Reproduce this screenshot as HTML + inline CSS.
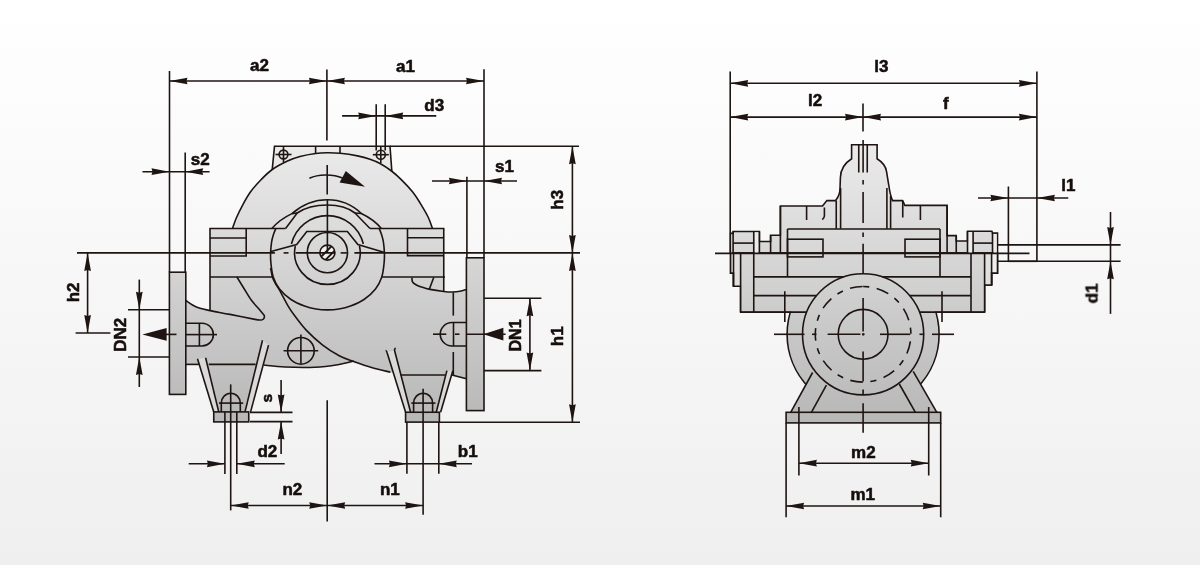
<!DOCTYPE html>
<html><head><meta charset="utf-8"><title>Pump dimensions</title>
<style>
html,body{margin:0;padding:0;background:#fff;}
body{width:1200px;height:565px;overflow:hidden;}
svg{display:block;}
svg text{font-family:"Liberation Sans",sans-serif;font-weight:bold;fill:#140d0b;stroke:#140d0b;stroke-width:0.55px;stroke-linejoin:round;}
</style></head><body>
<svg width="1200" height="565" viewBox="0 0 1200 565" stroke="#1e1412" stroke-linecap="butt" stroke-linejoin="miter" fill="none">
<defs>
<linearGradient id="bg" x1="0" y1="0" x2="0" y2="1"><stop offset="0" stop-color="#ffffff"/><stop offset="1" stop-color="#efefef"/></linearGradient>
<linearGradient id="g" gradientUnits="userSpaceOnUse" x1="0" y1="145" x2="0" y2="425"><stop offset="0" stop-color="#ebebeb"/><stop offset="0.4" stop-color="#d6d6d6"/><stop offset="1" stop-color="#b7b7b7"/></linearGradient>
<clipPath id="shaftclip"><circle cx="327.4" cy="252.6" r="7.2"/></clipPath>
</defs>
<rect x="0" y="0" width="1200" height="565" fill="url(#bg)" stroke="none"/>

<g id="left">
<path d="M274.5,146.3 L390,146.3 L391.9,172.3 L272.1,170.8 Z" fill="url(#g)" stroke-width="1.6"/>
<path d="M210,228.5 L232.5,228.5 C233.13,226.75 234.63,221.87 236.3,218 C237.97,214.13 240.15,209.63 242.5,205.3 C244.85,200.97 247.32,196.25 250.4,192 C253.48,187.75 257.36,183.55 261,179.8 C264.64,176.05 267.83,172.63 272.25,169.5 C276.67,166.37 282.88,163.17 287.5,161 C292.12,158.83 295.32,157.75 300,156.5 C304.68,155.25 311.1,154.12 315.6,153.5 C320.1,152.88 322.93,152.83 327,152.8 C331.07,152.77 334.92,152.78 340,153.3 C345.08,153.82 352.5,154.92 357.5,155.9 C362.5,156.88 366.25,157.93 370,159.2 C373.75,160.47 376.42,161.53 380,163.5 C383.58,165.47 387.96,168.32 391.5,171 C395.04,173.68 397.75,176.13 401.25,179.6 C404.75,183.07 409.38,187.93 412.5,191.8 C415.62,195.67 417.4,198.6 420,202.8 C422.6,207 426.02,212.72 428.1,217 C430.18,221.28 431.77,226.58 432.5,228.5 L443.75,228.5 L443.75,291.5 C445.21,291.58 449.79,292.04 452.5,292 C455.21,291.96 457.68,291.68 460,291.25 C462.32,290.82 465.33,289.71 466.4,289.4 L466.4,378.75 L451.9,375 L400.6,375 L390.4,372.2 C387.38,371.45 378.32,369.45 372.3,367.7 C366.28,365.95 357.3,362.7 354.3,361.7 C351.12,361.62 344.17,363.67 337.7,364.7 C331.23,365.73 323.78,366.82 315,367.2 C306.22,367.58 293.54,367.37 285,367 C276.46,366.63 267.29,365.33 263.75,365 L185.8,364.4 L185.8,300.5 C186.92,301.25 190.13,303.7 192.5,305 C194.87,306.3 197.08,307.37 200,308.3 C202.92,309.23 208.33,310.22 210,310.6 Z" fill="url(#g)" stroke="none"/>
<rect x="169.4" y="272.2" width="16.4" height="122.2" fill="url(#g)" stroke-width="1.6"/>
<rect x="466.4" y="257.8" width="17.6" height="152.8" fill="url(#g)" stroke-width="1.6"/>
<path d="M197.5,358.75 L268.5,345.1 L250.6,411.9 L213.75,411.9 Z" fill="url(#g)" stroke="none"/>
<path d="M386.6,351.2 L452.5,371.5 L440.6,412.25 L405.6,412.25 Z" fill="url(#g)" stroke="none"/>
<path d="M197.5,358.75 L205.6,357.75 L218.75,411.9 L213.75,411.9 Z" fill="#d9d9d9" stroke="none"/>
<path d="M262.5,340.3 L268.5,345.1 L250.6,411.9 L245,411.9 Z" fill="#d9d9d9" stroke="none"/>
<path d="M387,352 L394.7,350.5 L410.6,412.25 L405.6,412.25 Z" fill="#d9d9d9" stroke="none"/>
<path d="M446.9,370.6 L452.8,370.8 L440.6,412.25 L436.25,412.25 Z" fill="#d9d9d9" stroke="none"/>
<rect x="213.75" y="411.9" width="35" height="10" fill="url(#g)" stroke-width="1.6"/>
<rect x="405.6" y="412.25" width="33.8" height="9.85" fill="url(#g)" stroke-width="1.6"/>
<path d="M232.5,228.5 C233.13,226.75 234.63,221.87 236.3,218 C237.97,214.13 240.15,209.63 242.5,205.3 C244.85,200.97 247.32,196.25 250.4,192 C253.48,187.75 257.36,183.55 261,179.8 C264.64,176.05 267.83,172.63 272.25,169.5 C276.67,166.37 282.88,163.17 287.5,161 C292.12,158.83 295.32,157.75 300,156.5 C304.68,155.25 311.1,154.12 315.6,153.5 C320.1,152.88 322.93,152.83 327,152.8 C331.07,152.77 334.92,152.78 340,153.3 C345.08,153.82 352.5,154.92 357.5,155.9 C362.5,156.88 366.25,157.93 370,159.2 C373.75,160.47 376.42,161.53 380,163.5 C383.58,165.47 387.96,168.32 391.5,171 C395.04,173.68 397.75,176.13 401.25,179.6 C404.75,183.07 409.38,187.93 412.5,191.8 C415.62,195.67 417.4,198.6 420,202.8 C422.6,207 426.02,212.72 428.1,217 C430.18,221.28 431.77,226.58 432.5,228.5 " fill="none" stroke-width="1.6"/>
<line x1="210" y1="228.5" x2="210" y2="310.6" stroke-width="1.6" />
<line x1="443.75" y1="228.5" x2="443.75" y2="291.5" stroke-width="1.6" />
<line x1="209.35" y1="228.5" x2="285.6" y2="228.5" stroke-width="1.6" />
<line x1="370" y1="228.5" x2="444.4" y2="228.5" stroke-width="1.6" />
<line x1="210" y1="277" x2="272.8" y2="277" stroke-width="1.6" />
<line x1="381.9" y1="277" x2="445" y2="277" stroke-width="1.6" />
<path d="M210,256 L246.2,256 L246.2,228.5" fill="none" stroke-width="1.6"/>
<line x1="210" y1="238" x2="246.2" y2="238" stroke-width="1.6" />
<path d="M443.75,255.6 L407.5,255.6 L407.5,228.5" fill="none" stroke-width="1.6"/>
<line x1="407.5" y1="237.8" x2="443.75" y2="237.8" stroke-width="1.6" />
<path d="M379.2,228.5 C379.62,229.58 381,232.75 381.7,235 C382.4,237.25 382.95,239.07 383.4,242 C383.85,244.93 384.28,249.1 384.4,252.6 C384.52,256.1 384.53,258.95 384.1,263 C383.67,267.05 383.23,272.58 381.8,276.9 C380.37,281.22 378.47,285.13 375.5,288.9 C372.53,292.67 368.17,296.65 364,299.5 C359.83,302.35 354.67,304.42 350.5,306 C346.33,307.58 342.83,308.35 339,309 C335.17,309.65 331.33,309.9 327.5,309.9 C323.67,309.9 319.83,309.65 316,309 C312.17,308.35 308.67,307.58 304.5,306 C300.33,304.42 295.17,302.35 291,299.5 C286.83,296.65 282.47,292.67 279.5,288.9 C276.53,285.13 274.63,281.22 273.2,276.9 C271.77,272.58 271.33,267.05 270.9,263 C270.47,258.95 270.48,256.1 270.6,252.6 C270.72,249.1 271.15,244.93 271.6,242 C272.05,239.07 272.6,237.25 273.3,235 C274,232.75 275.38,229.58 275.8,228.5 " fill="none" stroke-width="1.6"/>
<path d="M271.9,228.5 Q279.5,219.5 292,213.6 C301,205.8 313,199.8 327.4,199.8 C341.8,199.8 353,205.5 361.3,213.5 Q374,219.5 381.3,228.5" fill="none" stroke-width="1.6"/>
<path d="M285.6,228.5 L297.2,213 C305,207.6 316,205 327.4,205 C339,205 348,207.6 355,213 L370,228.5" fill="none" stroke-width="1.6"/>
<line x1="292" y1="213.6" x2="297.2" y2="213" stroke-width="1.6" />
<line x1="355" y1="213" x2="361.3" y2="213.5" stroke-width="1.6" />
<path d="M291.42,243.96 A37,37 0 0 1 363.38,243.96" stroke-width="1.6"/>
<path d="M359.48,245.99 A32.8,31.8 0 1 1 295.32,245.99" stroke-width="1.6"/>
<circle cx="327.4" cy="252.6" r="20.1" fill="none" stroke-width="1.6" />
<path d="M271,251.6 L296.7,244.6 L306.8,231.5 L347.4,231.5 L357.9,244.6 L383.8,252.2" fill="none" stroke-width="1.6"/>
<circle cx="327.4" cy="252.6" r="7.5" fill="#f0f0f0" stroke-width="1.6" />
<g clip-path="url(#shaftclip)">
<line x1="316.3" y1="261.5" x2="336.3" y2="241.5" stroke-width="1.9" />
<line x1="320.1" y1="265.3" x2="340.1" y2="245.3" stroke-width="1.9" />
</g>
<path d="M185.8,300.5 C186.92,301.25 190.13,303.7 192.5,305 C194.87,306.3 197.08,307.37 200,308.3 C202.92,309.23 205,309.58 210,310.6 C215,311.62 222.5,312.93 230,314.4 C237.5,315.87 250,318.47 255,319.4 C260,320.33 259.17,319.9 260,320 C262.5,320.4 265.5,318.5 264,315 C263.12,313.96 260.88,311.25 258.75,308.75 C256.62,306.25 253.71,303.38 251.25,300 C248.79,296.62 246.39,292.33 244,288.5 C241.61,284.67 238.08,278.92 236.9,277 " fill="none" stroke-width="1.6"/>
<path d="M270.6,268 C270.93,269.58 271.8,274.92 272.6,277.5 C273.4,280.08 274.27,281.45 275.4,283.5 C276.53,285.55 277.25,286 279.4,289.8 C281.55,293.6 285.78,302.02 288.3,306.3 C290.82,310.58 291.52,311.53 294.5,315.5 C297.48,319.47 301.5,325.17 306.2,330.1 C310.9,335.03 317.2,340.83 322.7,345.1 C328.2,349.37 333.93,352.93 339.2,355.7 C344.47,358.47 348.78,359.7 354.3,361.7 C359.82,363.7 366.28,365.95 372.3,367.7 C378.32,369.45 387.38,371.45 390.4,372.2 " fill="none" stroke-width="1.6"/>
<path d="M263.75,365 C267.29,365.33 276.46,366.63 285,367 C293.54,367.37 306.22,367.58 315,367.2 C323.78,366.82 331.23,365.73 337.7,364.7 C344.17,363.67 351.12,361.62 353.8,361 " fill="none" stroke-width="1.6"/>
<path d="M411.9,277.5 C412,278.23 411.9,280.73 412.5,281.9 C413.1,283.07 414.04,283.67 415.5,284.5 C416.96,285.33 418.83,286.08 421.25,286.9 C423.67,287.72 426.25,288.63 430,289.4 C433.75,290.17 440,291.07 443.75,291.5 C447.5,291.93 449.79,292.04 452.5,292 C455.21,291.96 457.68,291.68 460,291.25 C462.32,290.82 465.33,289.71 466.4,289.4 " fill="none" stroke-width="1.6"/>
<line x1="433.75" y1="277.5" x2="429.4" y2="289" stroke-width="1.6" />
<line x1="185.8" y1="364.4" x2="198.9" y2="364.4" stroke-width="1.6" />
<line x1="208.75" y1="364.4" x2="255.6" y2="364.4" stroke-width="1.6" />
<line x1="400.6" y1="375" x2="445" y2="375" stroke-width="1.6" />
<line x1="451.9" y1="375" x2="466.4" y2="378.75" stroke-width="1.6" />
<path d="M185.8,323.2 L202,323.2 A11.4,11.4 0 0 1 202,346 L185.8,346" fill="none" stroke-width="1.6"/>
<line x1="199.4" y1="323.2" x2="199.4" y2="346" stroke-width="1.6" />
<line x1="185.8" y1="334.6" x2="217" y2="334.6" stroke-width="1.6" />
<path d="M466.4,322.5 L452,322.5 A11.75,11.75 0 0 0 452,346 L466.4,346" fill="none" stroke-width="1.6"/>
<line x1="453.5" y1="322.5" x2="453.5" y2="346" stroke-width="1.6" />
<line x1="433" y1="334.2" x2="446.3" y2="334.2" stroke-width="1.6" />
<line x1="455" y1="334.2" x2="459.5" y2="334.2" stroke-width="1.6" />
<line x1="453.3" y1="292.5" x2="453.3" y2="315.6" stroke-width="1.6" />
<line x1="453.3" y1="352" x2="453.3" y2="375" stroke-width="1.6" />
<circle cx="300.9" cy="350.8" r="13.3" fill="none" stroke-width="1.6" />
<line x1="283.6" y1="350.8" x2="318.2" y2="350.8" stroke-width="1.6" />
<line x1="300.9" y1="334.6" x2="300.9" y2="363.2" stroke-width="1.6" />
<circle cx="283.5" cy="154.5" r="4.4" fill="none" stroke-width="1.6" />
<line x1="275.5" y1="154.5" x2="291.5" y2="154.5" stroke-width="1.6" />
<line x1="283.5" y1="146.3" x2="283.5" y2="162.5" stroke-width="1.6" />
<circle cx="380.8" cy="154.7" r="4.5" fill="none" stroke-width="1.6" />
<line x1="372.8" y1="154.7" x2="388.8" y2="154.7" stroke-width="1.6" />
<line x1="380.8" y1="146.3" x2="380.8" y2="163" stroke-width="1.6" />
<line x1="315.6" y1="146.3" x2="315.6" y2="153.5" stroke-width="1.6" />
<line x1="340" y1="146.3" x2="340" y2="153.3" stroke-width="1.6" />
<line x1="197.5" y1="358.75" x2="213.75" y2="411.9" stroke-width="1.6" />
<line x1="205.6" y1="357.75" x2="218.75" y2="411.9" stroke-width="1.6" />
<line x1="268.5" y1="345.1" x2="250.6" y2="411.9" stroke-width="1.6" />
<line x1="262.5" y1="340.3" x2="245" y2="411.9" stroke-width="1.6" />
<path d="M385.6,350.5 C386.5,350.5 386.8,351.5 387.2,353 L405.6,412.25" fill="none" stroke-width="1.6"/>
<path d="M395.8,348.3 C394.6,348.6 394.3,349.6 394.7,351 L410.6,412.25" fill="none" stroke-width="1.6"/>
<line x1="452.8" y1="370.8" x2="440.6" y2="412.25" stroke-width="1.6" />
<line x1="446.9" y1="370.6" x2="436.25" y2="412.25" stroke-width="1.6" />
<path d="M221.3,403.1 A9.5,9.9 0 0 1 240.3,403.1" fill="url(#g)" stroke-width="1.6"/>
<line x1="219" y1="403.1" x2="243.2" y2="403.1" stroke-width="1.6" />
<line x1="221.3" y1="403.1" x2="221.3" y2="412" stroke-width="1.6" />
<line x1="240.3" y1="403.1" x2="240.3" y2="412" stroke-width="1.6" />
<path d="M413.6,403.1 A9.5,9.9 0 0 1 432.6,403.1" fill="url(#g)" stroke-width="1.6"/>
<line x1="411.3" y1="403.1" x2="435.5" y2="403.1" stroke-width="1.6" />
<line x1="413.6" y1="403.1" x2="413.6" y2="412" stroke-width="1.6" />
<line x1="432.6" y1="403.1" x2="432.6" y2="412" stroke-width="1.6" />
<path d="M309.4,178.2 C318,174.4 332,173.6 342.5,178" fill="none" stroke-width="1.6"/>
<polygon points="365,186.8 345.8,171 339.6,182.6" fill="#1e1412" stroke="none"/>
<line x1="326.9" y1="69.4" x2="326.9" y2="140.6" stroke-width="1.6" />
<line x1="327.2" y1="165" x2="327.2" y2="194.4" stroke-width="1.6" />
<line x1="327.4" y1="200" x2="327.4" y2="252.6" stroke-width="1.6" />
<line x1="327.2" y1="400.2" x2="327.2" y2="521.5" stroke-width="1.6" />
<line x1="77" y1="252.9" x2="274.9" y2="252.9" stroke-width="1.6" />
<line x1="283.6" y1="252.9" x2="288.5" y2="252.9" stroke-width="1.6" />
<line x1="295.6" y1="252.9" x2="334.9" y2="252.9" stroke-width="1.6" />
<line x1="340.6" y1="252.9" x2="346.9" y2="252.9" stroke-width="1.6" />
<line x1="354.4" y1="252.9" x2="580" y2="252.9" stroke-width="1.6" />
</g>
<g id="ldim">
<line x1="169.5" y1="71" x2="169.5" y2="272.2" stroke-width="1.6" />
<line x1="484" y1="69.3" x2="484" y2="257.8" stroke-width="1.6" />
<line x1="169.5" y1="81" x2="484" y2="81" stroke-width="1.6" />
<polygon points="169.5,81 187.5,77.65 186.5,81 187.5,84.35" fill="#1e1412" stroke="none"/>
<polygon points="326.9,81 308.9,84.35 309.9,81 308.9,77.65" fill="#1e1412" stroke="none"/>
<polygon points="326.9,81 344.9,77.65 343.9,81 344.9,84.35" fill="#1e1412" stroke="none"/>
<polygon points="484,81 466,84.35 467,81 466,77.65" fill="#1e1412" stroke="none"/>
<line x1="376.2" y1="104.2" x2="376.2" y2="150.5" stroke-width="1.6" />
<line x1="385.2" y1="104.2" x2="385.2" y2="150.5" stroke-width="1.6" />
<line x1="342.1" y1="115.9" x2="436.3" y2="115.9" stroke-width="1.6" />
<polygon points="376.2,115.9 358.2,119.25 359.2,115.9 358.2,112.55" fill="#1e1412" stroke="none"/>
<polygon points="385.2,115.9 403.2,112.55 402.2,115.9 403.2,119.25" fill="#1e1412" stroke="none"/>
<line x1="185.2" y1="152.6" x2="185.2" y2="272.2" stroke-width="1.6" />
<line x1="142.5" y1="171.7" x2="209.6" y2="171.7" stroke-width="1.6" />
<polygon points="169.5,171.7 151.5,175.05 152.5,171.7 151.5,168.35" fill="#1e1412" stroke="none"/>
<polygon points="185.2,171.7 203.2,168.35 202.2,171.7 203.2,175.05" fill="#1e1412" stroke="none"/>
<line x1="466.9" y1="176.7" x2="466.9" y2="257.8" stroke-width="1.6" />
<line x1="432" y1="181" x2="517" y2="181" stroke-width="1.6" />
<polygon points="466.9,181 448.9,184.35 449.9,181 448.9,177.65" fill="#1e1412" stroke="none"/>
<polygon points="484,181 502,177.65 501,181 502,184.35" fill="#1e1412" stroke="none"/>
<line x1="390" y1="146.3" x2="579" y2="146.3" stroke-width="1.6" />
<line x1="439.4" y1="422.2" x2="580" y2="422.2" stroke-width="1.6" />
<line x1="572.4" y1="146.3" x2="572.4" y2="422.2" stroke-width="1.6" />
<polygon points="572.4,146.3 575.75,164.3 572.4,163.3 569.05,164.3" fill="#1e1412" stroke="none"/>
<polygon points="572.4,252.9 569.05,234.9 572.4,235.9 575.75,234.9" fill="#1e1412" stroke="none"/>
<polygon points="572.4,252.9 575.75,270.9 572.4,269.9 569.05,270.9" fill="#1e1412" stroke="none"/>
<polygon points="572.4,422.2 569.05,404.2 572.4,405.2 575.75,404.2" fill="#1e1412" stroke="none"/>
<line x1="75.6" y1="333" x2="110.4" y2="333" stroke-width="1.6" />
<line x1="87.6" y1="252.9" x2="87.6" y2="333" stroke-width="1.6" />
<polygon points="87.6,252.9 90.95,270.9 87.6,269.9 84.25,270.9" fill="#1e1412" stroke="none"/>
<polygon points="87.6,333 84.25,315 87.6,316 90.95,315" fill="#1e1412" stroke="none"/>
<line x1="128" y1="309.7" x2="169.4" y2="309.7" stroke-width="1.6" />
<line x1="128" y1="357" x2="169.4" y2="357" stroke-width="1.6" />
<line x1="139.3" y1="279.6" x2="139.3" y2="387" stroke-width="1.6" />
<polygon points="139.3,309.7 135.95,291.7 139.3,292.7 142.65,291.7" fill="#1e1412" stroke="none"/>
<polygon points="139.3,357 142.65,375 139.3,374 135.95,375" fill="#1e1412" stroke="none"/>
<polygon points="142.4,334.4 166.6,328 166.6,340.8" fill="#1e1412" stroke="none"/>
<line x1="166" y1="334.4" x2="176.5" y2="334.4" stroke-width="1.6" />
<line x1="484" y1="298.2" x2="541.4" y2="298.2" stroke-width="1.6" />
<line x1="484" y1="370.6" x2="541.4" y2="370.6" stroke-width="1.6" />
<line x1="529.9" y1="298.2" x2="529.9" y2="370.6" stroke-width="1.6" />
<polygon points="529.9,298.2 533.25,316.2 529.9,315.2 526.55,316.2" fill="#1e1412" stroke="none"/>
<polygon points="529.9,370.6 526.55,352.6 529.9,353.6 533.25,352.6" fill="#1e1412" stroke="none"/>
<polygon points="483.3,334.2 503.4,327.8 503.4,340.6" fill="#1e1412" stroke="none"/>
<line x1="466.9" y1="334.2" x2="505.6" y2="334.2" stroke-width="1.6" />
<line x1="250" y1="412.4" x2="292.5" y2="412.4" stroke-width="1.6" />
<line x1="250" y1="421.6" x2="292.5" y2="421.6" stroke-width="1.6" />
<line x1="281.1" y1="380" x2="281.1" y2="412.4" stroke-width="1.6" />
<line x1="281.1" y1="421.6" x2="281.1" y2="454" stroke-width="1.6" />
<polygon points="281.1,412.4 277.75,394.4 281.1,395.4 284.45,394.4" fill="#1e1412" stroke="none"/>
<polygon points="281.1,421.6 284.45,439.6 281.1,438.6 277.75,439.6" fill="#1e1412" stroke="none"/>
<line x1="224.9" y1="411.9" x2="224.9" y2="474" stroke-width="1.6" />
<line x1="236.8" y1="411.9" x2="236.8" y2="474" stroke-width="1.6" />
<line x1="230.7" y1="384.4" x2="230.7" y2="510.4" stroke-width="1.6" />
<line x1="188.7" y1="463.8" x2="224.9" y2="463.8" stroke-width="1.6" />
<line x1="236.8" y1="463.8" x2="284.7" y2="463.8" stroke-width="1.6" />
<polygon points="224.9,463.8 206.9,467.15 207.9,463.8 206.9,460.45" fill="#1e1412" stroke="none"/>
<polygon points="236.8,463.8 254.8,460.45 253.8,463.8 254.8,467.15" fill="#1e1412" stroke="none"/>
<line x1="406.9" y1="422.1" x2="406.9" y2="473.7" stroke-width="1.6" />
<line x1="438.8" y1="422.1" x2="438.8" y2="473.7" stroke-width="1.6" />
<line x1="374.5" y1="463.8" x2="472" y2="463.8" stroke-width="1.6" />
<polygon points="406.9,463.8 388.9,467.15 389.9,463.8 388.9,460.45" fill="#1e1412" stroke="none"/>
<polygon points="438.8,463.8 456.8,460.45 455.8,463.8 456.8,467.15" fill="#1e1412" stroke="none"/>
<line x1="423.1" y1="388.75" x2="423.1" y2="514.8" stroke-width="1.6" />
<line x1="230.7" y1="505.5" x2="423.1" y2="505.5" stroke-width="1.6" />
<polygon points="230.7,505.5 248.7,502.15 247.7,505.5 248.7,508.85" fill="#1e1412" stroke="none"/>
<polygon points="327.2,505.5 309.2,508.85 310.2,505.5 309.2,502.15" fill="#1e1412" stroke="none"/>
<polygon points="327.2,505.5 345.2,502.15 344.2,505.5 345.2,508.85" fill="#1e1412" stroke="none"/>
<polygon points="423.1,505.5 405.1,508.85 406.1,505.5 405.1,502.15" fill="#1e1412" stroke="none"/>
</g>
<g id="right">
<path d="M730.6,253 L730.6,233.4 L733.1,233.4 L733.1,231.5 L759.4,231.5 L759.4,241.5 L770.6,241.5 L770.6,235.3 L780.4,235.3 L780.4,206 L822.5,206 L826.9,200.6 L835.6,200.6 C838,197.5 840,192 840,188.75 L840.4,177.5 C840.6,170 844,163.5 851.6,158.75 L851.6,144.75 L877.1,144.75 L877.1,158.75 C883,162.5 886,167 886.5,171.5 L888.75,185 C889.5,190.5 890.6,196 892.5,200.6 L902.5,200.6 C903.6,201.6 903.8,204 904.8,205.4 L947.1,205.4 L947.1,235.6 L956.25,235.6 L956.25,241 L967.5,241 L967.5,231.25 L991.9,231.25 L992.5,233.1 L997.5,233.1 L997.5,253 Z" fill="url(#g)" stroke-width="1.6"/>
<path d="M730.6,253 L730.6,273.1 L733.5,273.1 L733.5,286.25 L740.6,286.25 L740.6,312.1 L984.6,312.1 L984.6,285 L991.6,285 L991.6,273.1 L997.5,273.1 L997.5,253 Z" fill="url(#g)" stroke-width="1.6"/>
<rect x="733.5" y="253" width="7.1" height="33.25" fill="#e0e0e0" stroke="none"/>
<rect x="730.6" y="253" width="2.9" height="20.1" fill="#eeeeee" stroke="none"/>
<rect x="984.6" y="253" width="7" height="32" fill="#e0e0e0" stroke="none"/>
<rect x="991.6" y="253" width="5.9" height="20.1" fill="#eeeeee" stroke="none"/>
<path d="M730.6,253 L730.6,273.1 L733.5,273.1 L733.5,286.25 L740.6,286.25 M984.6,285 L991.6,285 L991.6,273.1 L997.5,273.1 L997.5,253" fill="none" stroke-width="1.6"/>
<circle cx="863.1" cy="334.3" r="76" fill="url(#g)" stroke-width="1.6" />
<path d="M790.7,412.3 L812.6,372.5 L913.6,372.5 L936.8,412.3 Z" fill="url(#g)" stroke="none"/>
<rect x="786.1" y="412.3" width="154.6" height="10.6" fill="url(#g)" stroke-width="1.6"/>
<rect x="741.25" y="253.6" width="242.7" height="57.85" fill="url(#g)" stroke="none"/>
<circle cx="863.1" cy="334.3" r="60.6" fill="url(#g)" stroke-width="1.6" />
<circle cx="863.1" cy="334.3" r="24.9" fill="none" stroke-width="1.6" />
<path d="M863.1,286.5 A47.8,47.8 0 1 1 863.1,382.1 A47.8,47.8 0 1 1 863.1,286.5" stroke-width="1.6" stroke-dasharray="6.2 7.6 12.7 7.6"/>
<line x1="790.7" y1="412.3" x2="812.6" y2="372.5" stroke-width="1.6" />
<line x1="811.4" y1="412.3" x2="826.4" y2="385.1" stroke-width="1.6" />
<line x1="936.8" y1="412.3" x2="913.2" y2="371.3" stroke-width="1.6" />
<line x1="915.4" y1="412.3" x2="899.3" y2="384" stroke-width="1.6" />
<rect x="968.3" y="232.05" width="4" height="21.35" fill="#ececec" stroke="none"/>
<rect x="993.3" y="233.9" width="3.4" height="19.5" fill="#ececec" stroke="none"/>
<rect x="731.4" y="234.2" width="0.9" height="19.2" fill="#ececec" stroke="none"/>
<rect x="754.55" y="232.3" width="4.05" height="21.1" fill="#ececec" stroke="none"/>
<line x1="715" y1="253.4" x2="1029.5" y2="253.4" stroke-width="1.6" />
<line x1="759.4" y1="231.5" x2="759.4" y2="253" stroke-width="1.6" />
<line x1="770.6" y1="235.3" x2="770.6" y2="253" stroke-width="1.6" />
<line x1="780.4" y1="206" x2="780.4" y2="253" stroke-width="1.6" />
<line x1="947.1" y1="205.4" x2="947.1" y2="253" stroke-width="1.6" />
<line x1="956.25" y1="235.6" x2="956.25" y2="253" stroke-width="1.6" />
<line x1="967.5" y1="231.25" x2="967.5" y2="253" stroke-width="1.6" />
<line x1="733.1" y1="231.5" x2="733.1" y2="253" stroke-width="1.6" />
<line x1="753.75" y1="231.5" x2="753.75" y2="253" stroke-width="1.6" />
<line x1="733.1" y1="243.1" x2="753.75" y2="243.1" stroke-width="1.6" />
<line x1="806.6" y1="206" x2="806.6" y2="220" stroke-width="1.6" />
<path d="M824.4,207.5 L824.4,216 C824.3,217.5 823.5,218.6 822.3,219.6" fill="none" stroke-width="1.6"/>
<line x1="836.25" y1="200.6" x2="836.25" y2="228.75" stroke-width="1.6" />
<line x1="840.6" y1="188" x2="840.6" y2="228.75" stroke-width="1.6" />
<line x1="886.9" y1="188" x2="886.9" y2="228.75" stroke-width="1.6" />
<line x1="890.6" y1="196" x2="890.6" y2="228.75" stroke-width="1.6" />
<line x1="902.75" y1="200.6" x2="902.75" y2="217.5" stroke-width="1.6" />
<line x1="920.4" y1="205.4" x2="920.4" y2="220" stroke-width="1.6" />
<line x1="787.5" y1="229" x2="940" y2="229" stroke-width="1.6" />
<line x1="787.5" y1="229" x2="787.5" y2="276.9" stroke-width="1.6" />
<line x1="940" y1="229" x2="940" y2="276.9" stroke-width="1.6" />
<rect x="787.5" y="239.2" width="35.5" height="17.7" fill="none" stroke-width="1.6"/>
<rect x="905" y="239.2" width="35" height="17.7" fill="none" stroke-width="1.6"/>
<line x1="858.75" y1="144.75" x2="858.75" y2="172.5" stroke-width="1.6" />
<line x1="867.25" y1="144.75" x2="867.25" y2="172.5" stroke-width="1.6" />
<line x1="973.1" y1="231.25" x2="973.1" y2="253" stroke-width="1.6" />
<line x1="992.5" y1="233.1" x2="992.5" y2="253" stroke-width="1.6" />
<line x1="973.1" y1="243.1" x2="992.5" y2="243.1" stroke-width="1.6" />
<path d="M997.5,244.9 L1120.6,244.9" fill="none" stroke-width="1.6"/>
<path d="M997.5,261.3 L1120.6,261.3" fill="none" stroke-width="1.6"/>
<line x1="740.6" y1="253" x2="740.6" y2="312.1" stroke-width="1.6" />
<line x1="733.5" y1="253" x2="733.5" y2="286.25" stroke-width="1.6" />
<line x1="753.75" y1="253" x2="753.75" y2="312.1" stroke-width="1.6" />
<line x1="971" y1="253" x2="971" y2="312.1" stroke-width="1.6" />
<line x1="984.6" y1="253" x2="984.6" y2="312.1" stroke-width="1.6" />
<line x1="991.6" y1="253" x2="991.6" y2="285" stroke-width="1.6" />
<line x1="753.75" y1="276.9" x2="843.67" y2="276.9" stroke-width="1.6" />
<line x1="882.53" y1="276.9" x2="971" y2="276.9" stroke-width="1.6" />
<line x1="753.75" y1="295.6" x2="816.47" y2="295.6" stroke-width="1.6" />
<line x1="909.73" y1="295.6" x2="971" y2="295.6" stroke-width="1.6" />
<line x1="740.6" y1="312.1" x2="806.71" y2="312.1" stroke-width="1.6" />
<line x1="919.49" y1="312.1" x2="984.6" y2="312.1" stroke-width="1.6" />
<line x1="784.8" y1="291.25" x2="784.8" y2="322" stroke-width="1.6" />
<line x1="942" y1="291.25" x2="942" y2="322" stroke-width="1.6" />
<line x1="863.1" y1="140" x2="863.1" y2="172.5" stroke-width="1.6" />
<line x1="863.1" y1="180" x2="863.1" y2="184.4" stroke-width="1.6" />
<line x1="863.1" y1="191.9" x2="863.1" y2="223" stroke-width="1.6" />
<line x1="863.1" y1="232.5" x2="863.1" y2="237" stroke-width="1.6" />
<line x1="863.1" y1="243.75" x2="863.1" y2="273.75" stroke-width="1.6" />
<line x1="863.1" y1="298" x2="863.1" y2="331.5" stroke-width="1.6" />
<line x1="863.1" y1="333.2" x2="863.1" y2="335.6" stroke-width="1.6" />
<line x1="863.1" y1="351.5" x2="863.1" y2="381.6" stroke-width="1.6" />
<line x1="863.1" y1="389.5" x2="863.1" y2="394.2" stroke-width="1.6" />
<line x1="863.1" y1="403.3" x2="863.1" y2="432.7" stroke-width="1.6" />
<line x1="774" y1="334.3" x2="804.5" y2="334.3" stroke-width="1.6" />
<line x1="812" y1="334.3" x2="816.5" y2="334.3" stroke-width="1.6" />
<line x1="827.6" y1="334.3" x2="860.4" y2="334.3" stroke-width="1.6" />
<line x1="862.2" y1="334.3" x2="864.6" y2="334.3" stroke-width="1.6" />
<line x1="880" y1="334.3" x2="910.3" y2="334.3" stroke-width="1.6" />
<line x1="919.5" y1="334.3" x2="923" y2="334.3" stroke-width="1.6" />
<line x1="932" y1="334.3" x2="954" y2="334.3" stroke-width="1.6" />
</g>
<g id="rdim">
<line x1="730.2" y1="71.5" x2="730.2" y2="253" stroke-width="1.6" />
<line x1="1036.9" y1="71.5" x2="1036.9" y2="261.3" stroke-width="1.6" />
<line x1="730.2" y1="83.3" x2="1036.9" y2="83.3" stroke-width="1.6" />
<polygon points="730.2,83.3 748.2,79.95 747.2,83.3 748.2,86.65" fill="#1e1412" stroke="none"/>
<polygon points="1036.9,83.3 1018.9,86.65 1019.9,83.3 1018.9,79.95" fill="#1e1412" stroke="none"/>
<line x1="863" y1="103.6" x2="863" y2="131.5" stroke-width="1.6" />
<line x1="730.2" y1="117.1" x2="1036.9" y2="117.1" stroke-width="1.6" />
<polygon points="730.2,117.1 748.2,113.75 747.2,117.1 748.2,120.45" fill="#1e1412" stroke="none"/>
<polygon points="863,117.1 845,120.45 846,117.1 845,113.75" fill="#1e1412" stroke="none"/>
<polygon points="863,117.1 881,113.75 880,117.1 881,120.45" fill="#1e1412" stroke="none"/>
<polygon points="1036.9,117.1 1018.9,120.45 1019.9,117.1 1018.9,113.75" fill="#1e1412" stroke="none"/>
<line x1="1008.4" y1="186.5" x2="1008.4" y2="261.3" stroke-width="1.6" />
<line x1="978" y1="198" x2="1068.3" y2="198" stroke-width="1.6" />
<polygon points="1008.4,198 990.4,201.35 991.4,198 990.4,194.65" fill="#1e1412" stroke="none"/>
<polygon points="1036.9,198 1054.9,194.65 1053.9,198 1054.9,201.35" fill="#1e1412" stroke="none"/>
<line x1="1008.4" y1="261.3" x2="1036.9" y2="261.3" stroke-width="1.6" />
<line x1="1110.5" y1="212" x2="1110.5" y2="313.9" stroke-width="1.6" />
<polygon points="1110.5,244.9 1107.15,226.9 1110.5,227.9 1113.85,226.9" fill="#1e1412" stroke="none"/>
<polygon points="1110.5,261.3 1113.85,279.3 1110.5,278.3 1107.15,279.3" fill="#1e1412" stroke="none"/>
<line x1="786.1" y1="422.9" x2="786.1" y2="517.3" stroke-width="1.6" />
<line x1="940.7" y1="422.9" x2="940.7" y2="517.3" stroke-width="1.6" />
<line x1="798.9" y1="407" x2="798.9" y2="475.5" stroke-width="1.6" />
<line x1="928.7" y1="407" x2="928.7" y2="475.5" stroke-width="1.6" />
<line x1="798.9" y1="463.2" x2="928.7" y2="463.2" stroke-width="1.6" />
<line x1="786.1" y1="506" x2="940.7" y2="506" stroke-width="1.6" />
<polygon points="798.9,463.2 816.9,459.85 815.9,463.2 816.9,466.55" fill="#1e1412" stroke="none"/>
<polygon points="928.7,463.2 910.7,466.55 911.7,463.2 910.7,459.85" fill="#1e1412" stroke="none"/>
<polygon points="786.1,506 804.1,502.65 803.1,506 804.1,509.35" fill="#1e1412" stroke="none"/>
<polygon points="940.7,506 922.7,509.35 923.7,506 922.7,502.65" fill="#1e1412" stroke="none"/>
</g>
<g id="labels" opacity="0.996">
<text x="259.5" y="70.5" font-size="17" text-anchor="middle">a2</text>
<text x="405.4" y="71.5" font-size="17" text-anchor="middle">a1</text>
<text x="434.2" y="111.2" font-size="17" text-anchor="middle">d3</text>
<text x="200.3" y="164.5" font-size="17" text-anchor="middle">s2</text>
<text x="504.4" y="171.9" font-size="17" text-anchor="middle">s1</text>
<text x="563.5" y="199.8" font-size="17" text-anchor="middle" transform="rotate(-90 563.5 199.8)">h3</text>
<text x="563.5" y="336.3" font-size="17" text-anchor="middle" transform="rotate(-90 563.5 336.3)">h1</text>
<text x="79.5" y="292.4" font-size="17" text-anchor="middle" transform="rotate(-90 79.5 292.4)">h2</text>
<text x="125.9" y="334.8" font-size="17" text-anchor="middle" transform="rotate(-90 125.9 334.8)">DN2</text>
<text x="520.6" y="335.4" font-size="16.2" text-anchor="middle" transform="rotate(-90 520.6 335.4)">DN1</text>
<text x="271.6" y="398.2" font-size="15.5" text-anchor="middle" transform="rotate(-90 271.6 398.2)">s</text>
<text x="267.3" y="457" font-size="17" text-anchor="middle">d2</text>
<text x="467.7" y="456.7" font-size="17" text-anchor="middle">b1</text>
<text x="292.4" y="494.9" font-size="17" text-anchor="middle">n2</text>
<text x="389.9" y="495.2" font-size="17" text-anchor="middle">n1</text>
<text x="881.3" y="71.5" font-size="17" text-anchor="middle">l3</text>
<text x="815.2" y="105.8" font-size="17" text-anchor="middle">l2</text>
<text x="945.8" y="108.5" font-size="17" text-anchor="middle">f</text>
<text x="1068.3" y="191.1" font-size="17" text-anchor="middle">l1</text>
<text x="1098" y="293.4" font-size="17" text-anchor="middle" transform="rotate(-90 1098 293.4)">d1</text>
<text x="863.4" y="457.6" font-size="17" text-anchor="middle">m2</text>
<text x="862.7" y="500.2" font-size="17" text-anchor="middle">m1</text>
</g>
</svg></body></html>
